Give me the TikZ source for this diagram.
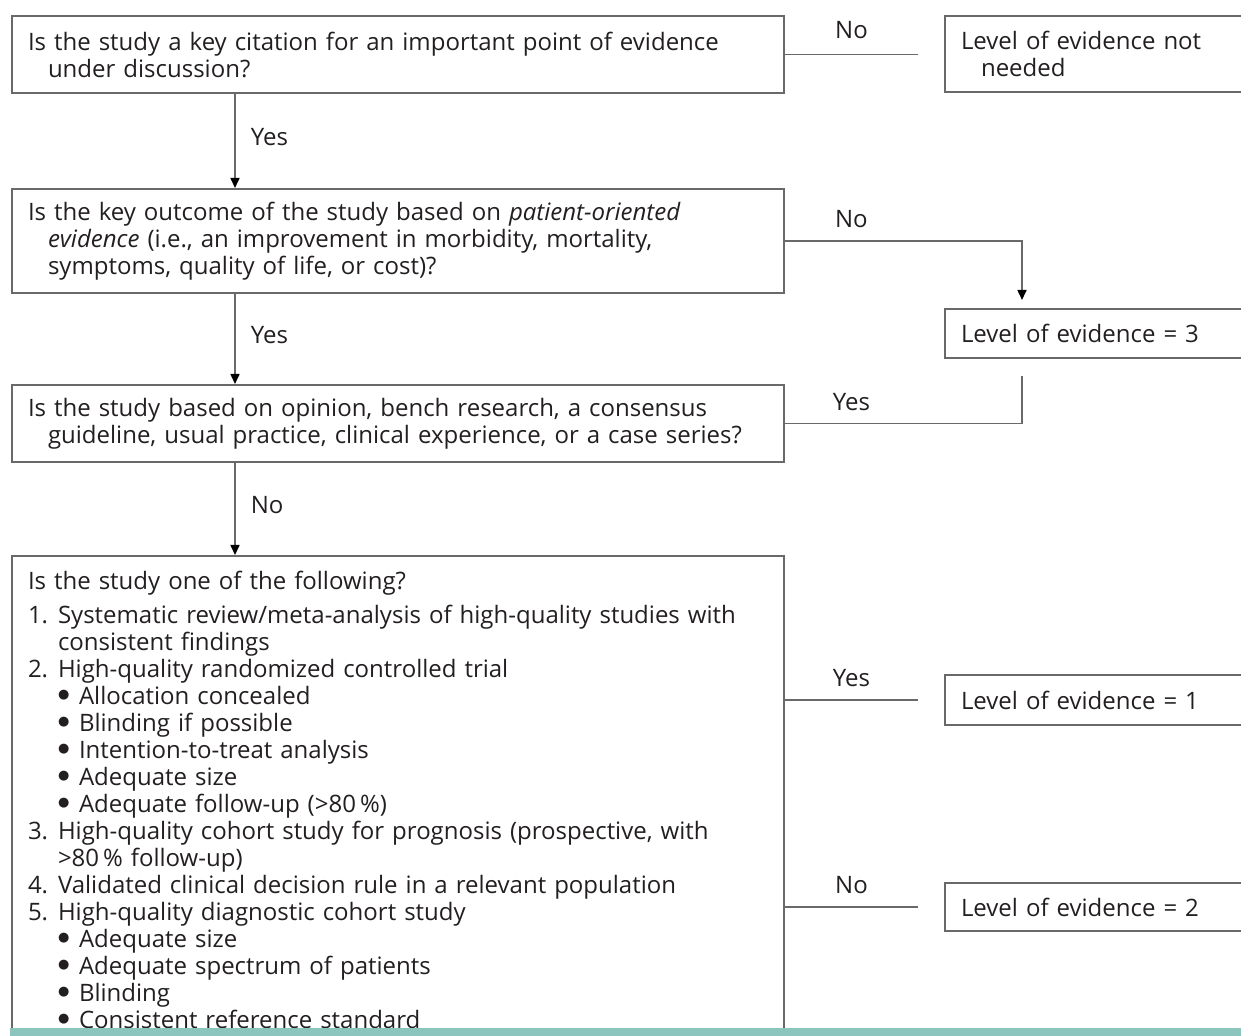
\documentclass[tikz,border=0pt]{standalone}
\usepackage{fontspec}
\setmainfont{Open Sans}
\newfontfamily\dotfont{DejaVu Sans}
\usetikzlibrary{arrows.meta,positioning,calc}
\definecolor{boxgray}{RGB}{105,105,105}
\definecolor{ink}{RGB}{35,31,32}
\definecolor{strip}{RGB}{140,197,190}
\newcommand{\stepno}[1]{\makebox[15pt][l]{#1}}
\newcommand{\dotitem}{\hspace*{15pt}\makebox[10.5pt][l]{\raisebox{2.6pt}{\dotfont\fontsize{6.5}{6.5}\selectfont ●}}}

\begin{document}
\begin{tikzpicture}[x=0.5pt,y=-0.5pt,
font=\fontsize{12}{13.5}\selectfont, text=ink,
qbox/.style={draw=boxgray, line width=1pt, anchor=north west, minimum width=386pt, text width=370pt, inner xsep=8pt, align=left},
lvl/.style={draw=boxgray, line width=1pt, anchor=north west, minimum width=159pt, text width=143pt, inner xsep=8pt, align=left},
link/.style={draw=boxgray, line width=0.8pt},
down/.style={link, -{Triangle[length=5pt,width=4.5pt,color=black]}},
tag/.style={inner sep=1pt}]

\useasboundingbox (0,0) rectangle (1241,1036);
\clip (0,0) rectangle (1241,1036);

\node[qbox, minimum height=38.5pt] (key) at (11,15) {Is the study a key citation for an important point of evidence\\ \hspace*{10pt}under discussion?};
\node[lvl, minimum height=38pt] (notneeded) at (944,15) {Level of evidence not\\ \hspace*{10pt}needed};
\node[qbox, minimum height=52pt] (poe) at (11,188) {Is the key outcome of the study based on \textit{patient-oriented}\\ \hspace*{10pt}\textit{evidence} (i.e., an improvement in morbidity, mortality,\\ \hspace*{10pt}symptoms, quality of life, or cost)?};
\node[lvl, minimum height=24.5pt] (lvl3) at (944,308) {Level of evidence = 3};
\node[qbox, minimum height=38.5pt] (opinion) at (11,384) {Is the study based on opinion, bench research, a consensus\\ \hspace*{10pt}guideline, usual practice, clinical experience, or a case series?};
\node[qbox, minimum height=243.5pt] (list) at (11,555) {Is the study one of the following?\\[3.5pt]
\stepno{1.}Systematic review/meta-analysis of high-quality studies with\\
\hspace*{15pt}consistent findings\\
\stepno{2.}High-quality randomized controlled trial\\
\dotitem Allocation concealed\\
\dotitem Blinding if possible\\
\dotitem Intention-to-treat analysis\\
\dotitem Adequate size\\
\dotitem Adequate follow-up (>80\,\%)\\
\stepno{3.}High-quality cohort study for prognosis (prospective, with\\
\hspace*{15pt}>80\,\% follow-up)\\
\stepno{4.}Validated clinical decision rule in a relevant population\\
\stepno{5.}High-quality diagnostic cohort study\\
\dotitem Adequate size\\
\dotitem Adequate spectrum of patients\\
\dotitem Blinding\\
\dotitem Consistent reference standard};
\node[lvl, minimum height=25pt] (lvl1) at (944,674) {Level of evidence = 1};
\node[lvl, minimum height=24pt] (lvl2) at (944,882) {Level of evidence = 2};

\coordinate (turn) at (1022,300);
\coordinate (back) at (1022,376);

\draw[link] (key.east) -- ([xshift=-13pt]key.east -| notneeded.west) node[midway, above=6.5pt, tag] {No};
\draw[down] ([xshift=112pt]key.south west) -- ([xshift=112pt]poe.north west) node[midway, right=6.5pt, yshift=2pt, tag] {Yes};
\draw[down] (poe.east) -| (turn) node[pos=0.14, above=5pt, tag] {No};
\draw[down] ([xshift=112pt]poe.south west) -- ([xshift=112pt]opinion.north west) node[midway, right=6.5pt, yshift=2pt, tag] {Yes};
\draw[link] (back) |- (opinion.east) node[pos=0.86, above=5pt, tag] {Yes};
\draw[down] ([xshift=112pt]opinion.south west) -- ([xshift=112pt]list.north west) node[midway, right=6.5pt, yshift=2pt, tag] {No};
\draw[link] (list.east |- lvl1.west) -- ([xshift=-13pt]lvl1.west) node[midway, above=5pt, tag] {Yes};
\draw[link] (list.east |- lvl2.west) -- ([xshift=-13pt]lvl2.west) node[midway, above=5pt, tag] {No};
%
\fill[strip] (10,1028) rectangle (1241,1036);
\end{tikzpicture}
\end{document}
